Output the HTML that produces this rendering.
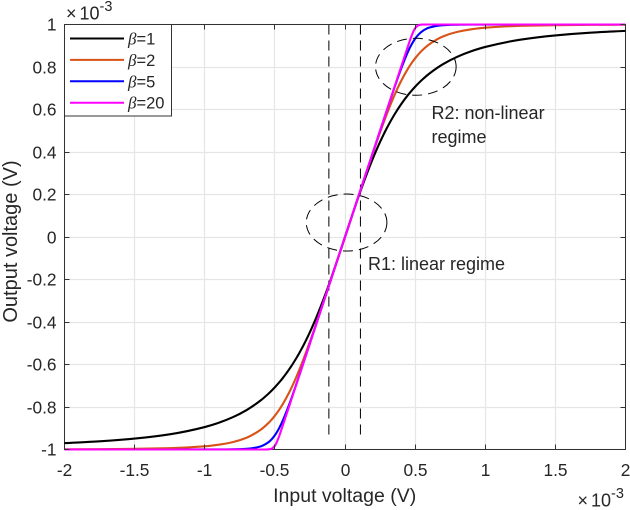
<!DOCTYPE html>
<html>
<head>
<meta charset="utf-8">
<style>
html,body{margin:0;padding:0;background:#fff;}
svg{display:block;}
text{font-family:"Liberation Sans",sans-serif;fill:#262626;}
</style>
</head>
<body>
<svg id="chart" xmlns="http://www.w3.org/2000/svg" width="630" height="510" viewBox="0 0 630 510"></svg>
<script>
const xTicks = [-2, -1.5, -1, -0.5, 0, 0.5, 1, 1.5, 2];
const xTickLabels = ['-2', '-1.5', '-1', '-0.5', '0', '0.5', '1', '1.5', '2'];
const yTicks = [-1, -0.8, -0.6, -0.4, -0.2, 0, 0.2, 0.4, 0.6, 0.8, 1];
const yTickLabels = ['-1', '-0.8', '-0.6', '-0.4', '-0.2', '0', '0.2', '0.4', '0.6', '0.8', '1'];
const inputVoltage = [-2,-1.75,-1.5,-1.25,-1,-0.9,-0.8,-0.7,-0.6,-0.55,-0.525,-0.5,-0.475,-0.45,-0.4,-0.35,-0.3,-0.25,-0.2,-0.15,-0.1,-0.05,0,0.05,0.1,0.15,0.2,0.25,0.3,0.35,0.4,0.45,0.475,0.5,0.525,0.55,0.6,0.7,0.8,0.9,1,1.25,1.5,1.75,2];
const beta1 = [-0.97,-0.9615,-0.9487,-0.9285,-0.8944,-0.8742,-0.848,-0.8137,-0.7682,-0.7399,-0.724,-0.7071,-0.6887,-0.669,-0.6247,-0.5735,-0.5145,-0.4472,-0.3714,-0.2873,-0.1961,-0.0995,0,0.0995,0.1961,0.2873,0.3714,0.4472,0.5145,0.5735,0.6247,0.669,0.6887,0.7071,0.724,0.7399,0.7682,0.8137,0.848,0.8742,0.8944,0.9285,0.9487,0.9615,0.97];
const beta2 = [-0.999,-0.9984,-0.997,-0.9937,-0.985,-0.9775,-0.9652,-0.944,-0.9063,-0.878,-0.8607,-0.8409,-0.8185,-0.7933,-0.7342,-0.6633,-0.582,-0.4925,-0.3975,-0.2994,-0.2,-0.1,0,0.1,0.2,0.2994,0.3975,0.4925,0.582,0.6633,0.7342,0.7933,0.8185,0.8409,0.8607,0.878,0.9063,0.944,0.9652,0.9775,0.985,0.9937,0.997,0.9984,0.999];
const beta5 = [-1,-1,-1,-1,-0.9998,-0.9997,-0.9991,-0.9966,-0.9851,-0.9679,-0.9533,-0.933,-0.9065,-0.8735,-0.7918,-0.698,-0.5996,-0.5,-0.4,-0.3,-0.2,-0.1,0,0.1,0.2,0.3,0.4,0.5,0.5996,0.698,0.7918,0.8735,0.9065,0.933,0.9533,0.9679,0.9851,0.9966,0.9991,0.9997,0.9998,1,1,1,1];
const beta20 = [-1,-1,-1,-1,-1,-1,-1,-1,-1,-0.9995,-0.9967,-0.9828,-0.947,-0.8997,-0.8,-0.7,-0.6,-0.5,-0.4,-0.3,-0.2,-0.1,0,0.1,0.2,0.3,0.4,0.5,0.6,0.7,0.8,0.8997,0.947,0.9828,0.9967,0.9995,1,1,1,1,1,1,1,1,1];
const seriesNames = ['1', '2', '5', '20'];
const boundaryInputs = [-0.115, 0.11];
const regionCentersX = [0.0114, 0.505];
const regionCentersY = [0.068, 0.801];

const svg = document.getElementById('chart');
const NS = 'http://www.w3.org/2000/svg';
const L = 64.5, R = 625.5, T = 24.5, B = 449.5;
function sx(v){ return L + (v + 2) / 4 * (R - L); }
function sy(v){ return B - (v + 1) / 2 * (B - T); }
function mk(tag, attrs, parent){
  const el = document.createElementNS(NS, tag);
  for (const k in attrs) el.setAttribute(k, attrs[k]);
  (parent || svg).appendChild(el);
  return el;
}
function snap(v){ return Math.floor(v) + 0.5; }

// monotone cubic path through the data points, so the curves stay smooth without overshoot
function smoothPath(xs, ys){
  const n = xs.length;
  const px = xs.map(sx);
  const py = ys.map(sy);
  const d = [];
  for (let i = 0; i < n - 1; i++) d.push((py[i + 1] - py[i]) / (px[i + 1] - px[i]));
  const m = [d[0]];
  for (let i = 1; i < n - 1; i++) {
    if (d[i - 1] * d[i] <= 0) { m.push(0); continue; }
    const h0 = px[i] - px[i - 1];
    const h1 = px[i + 1] - px[i];
    const w1 = 2 * h1 + h0;
    const w2 = h1 + 2 * h0;
    m.push((w1 + w2) / (w1 / d[i - 1] + w2 / d[i]));
  }
  m.push(d[n - 2]);
  let out = 'M' + px[0].toFixed(2) + ' ' + py[0].toFixed(2);
  for (let i = 0; i < n - 1; i++) {
    const h = (px[i + 1] - px[i]) / 3;
    out += 'C' + (px[i] + h).toFixed(2) + ' ' + (py[i] + m[i] * h).toFixed(2) + ' ' +
      (px[i + 1] - h).toFixed(2) + ' ' + (py[i + 1] - m[i + 1] * h).toFixed(2) + ' ' +
      px[i + 1].toFixed(2) + ' ' + py[i + 1].toFixed(2);
  }
  return out;
}

// grid
xTicks.forEach(function(t){
  const g = mk('line', {x1:snap(sx(t)), x2:snap(sx(t)), y1:T, y2:B, stroke:'#e6e6e6', 'stroke-width':1.2});
  
  
});
yTicks.forEach(function(t){
  const g = mk('line', {x1:L, x2:R, y1:snap(sy(t)), y2:snap(sy(t)), stroke:'#e6e6e6', 'stroke-width':1.2});
  
  
});

// boundary dashed lines
boundaryInputs.forEach(function(v){
  const d = mk('line', {x1:sx(v), x2:sx(v), y1:T, y2:sy(-0.95), stroke:'#000', 'stroke-width':1, 'stroke-dasharray':'10 6'});
  
  
});

// axes box (below the series, as in the reference)
const box = mk('rect', {x:L, y:T, width:R - L, height:B - T, fill:'none', stroke:'#333', 'stroke-width':1});



// series
const seriesData = [beta1, beta2, beta5, beta20];
const seriesColors = ['#000000', '#D95319', '#0000FF', '#FF00FF'];
seriesData.forEach(function(vals, i){
  const p = mk('path', {d:smoothPath(inputVoltage, vals), fill:'none', stroke:seriesColors[i], 'stroke-width':2.1, 'stroke-linejoin':'round'});
  
  
});

// region ellipses
regionCentersX.forEach(function(cx, i){
  const e = mk('ellipse', {cx:sx(cx), cy:sy(regionCentersY[i]), rx:40.3, ry:28.5, fill:'none', stroke:'#000', 'stroke-width':1, 'stroke-dasharray':'10 6'});
  
  
});

// ticks and labels
xTicks.forEach(function(t, i){
  const x = snap(sx(t));
  const a = mk('line', {x1:x, x2:x, y1:B, y2:B - 5, stroke:'#333', 'stroke-width':1});
  
  
  const b = mk('line', {x1:x, x2:x, y1:T, y2:T + 5, stroke:'#333', 'stroke-width':1});
  
  
  const l = mk('text', {x:x, y:476, 'font-size':17.3, 'text-anchor':'middle'});
  l.textContent = xTickLabels[i];
  
  
});
yTicks.forEach(function(t, i){
  const y = snap(sy(t));
  const a = mk('line', {x1:L, x2:L + 5, y1:y, y2:y, stroke:'#333', 'stroke-width':1});
  
  
  const b = mk('line', {x1:R, x2:R - 5, y1:y, y2:y, stroke:'#333', 'stroke-width':1});
  
  
  const l = mk('text', {x:56.5, y:y + 6, 'font-size':17.3, 'text-anchor':'end'});
  l.textContent = yTickLabels[i];
  
  
});

// axis titles
const xt = mk('text', {x:344.7, y:502, 'font-size':19.5, 'text-anchor':'middle'});
xt.textContent = 'Input voltage (V)';


const yt = mk('text', {x:0, y:0, 'font-size':20, 'text-anchor':'middle', transform:'translate(17 241.5) rotate(-90)'});
yt.textContent = 'Output voltage (V)';



// exponents
function expo(x, y, name){
  const t = mk('text', {x:x, y:y, 'font-size':18});
  
  
  const a = mk('tspan', {}, t);
  a.textContent = '\u00D7';
  const c = mk('tspan', {dx:3}, t);
  c.textContent = '10';
  const b = mk('tspan', {dy:-8.5, 'font-size':14.5}, t);
  b.textContent = '-3';
}
expo(66, 19.5, 'y-axis-exponent');
expo(577.5, 506.5, 'x-axis-exponent');

// annotations
function note(x, y, s, name){
  const t = mk('text', {x:x, y:y, 'font-size':18});
  t.textContent = s;
  
  
}
note(368, 270, 'R1: linear regime', 'r1-annotation');
note(431.5, 119, 'R2: non-linear', 'r2-annotation-line-1');
note(431.5, 143, 'regime', 'r2-annotation-line-2');

// legend
const lg = mk('rect', {x:L, y:T, width:107, height:91.5, fill:'#fff', stroke:'#333', 'stroke-width':1});


seriesNames.forEach(function(n, i){
  const y = 38.5 + i * 21.4;
  const s = mk('line', {x1:70, x2:124, y1:y, y2:y, stroke:seriesColors[i], 'stroke-width':2});
  
  
  const t = mk('text', {x:128, y:y + 6, 'font-size':16.5});
  
  
  const b = mk('tspan', {'font-family':'"Liberation Serif","DejaVu Serif",serif', 'font-style':'italic', 'font-size':17}, t);
  b.textContent = '\u03B2';
  const r = mk('tspan', {}, t);
  r.textContent = '=' + n;
});
</script>
</body>
</html>
